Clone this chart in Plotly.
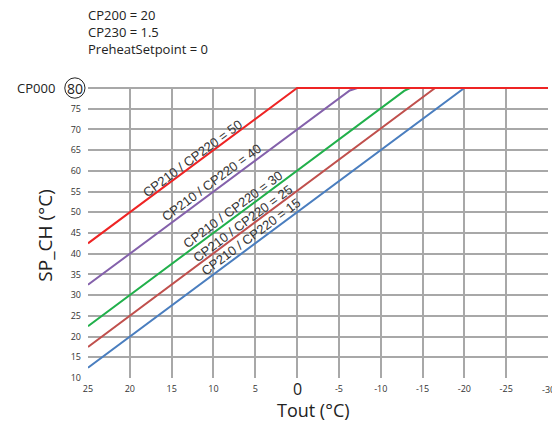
import plotly.graph_objects as go

# curve break points (Tout, SP_CH)
tout_50 = [25, 0, -30]
sp_50 = [42.5, 80, 80]
tout_40 = [25, -4.5, -5.5, -6.3, -7.2, -30]
sp_40 = [32.5, 76.8, 78.4, 79.4, 80, 80]
tout_30 = [25, -12, -12.8, -13.5, -30]
sp_30 = [22.5, 78, 79.3, 80, 80]
tout_25 = [25, -16.5, -30]
sp_25 = [17.5, 80, 80]
tout_15 = [25, -20, -30]
sp_15 = [12.5, 80, 80]

labels = ["CP210 / CP220 = 50", "CP210 / CP220 = 40", "CP210 / CP220 = 30",
          "CP210 / CP220 = 25", "CP210 / CP220 = 15"]
label_x = [12.5, 10.2, 7.7, 6.5, 5.5]
label_y = [62.9, 57.1, 50.7, 47.3, 44.2]

x_ticks = [25, 20, 15, 10, 5, 0, -5, -10, -15, -20, -25, -30]
y_ticks = [10, 15, 20, 25, 30, 35, 40, 45, 50, 55, 60, 65, 70, 75, 80]
cp000 = 80

y_rng = [10, 80.25]
y80 = (cp000 - y_rng[0]) / (y_rng[1] - y_rng[0])

fig = go.Figure()
series = [
    (tout_15, sp_15, '#4a7ebf'),
    (tout_25, sp_25, '#c0504d'),
    (tout_30, sp_30, '#21b04b'),
    (tout_40, sp_40, '#8461ab'),
    (tout_50, sp_50, '#ee2424'),
]
for xs, ys, c in series:
    fig.add_trace(go.Scatter(x=xs, y=ys, mode='lines', line=dict(color=c, width=2), hoverinfo='skip', showlegend=False))

for t, x, y in zip(labels, label_x, label_y):
    fig.add_annotation(x=x, y=y, text=t, showarrow=False, textangle=-36.6,
                       font=dict(family='Liberation Sans', size=13, color='#333333'))

tick_txt = ['' if v in (0, -30) else str(v) for v in x_ticks]
fig.update_xaxes(range=[25, -30], tickvals=x_ticks, ticktext=tick_txt, showgrid=True, gridcolor='#a8a8a8',
                 gridwidth=1.5, zeroline=False, showline=False, ticks='', ticklabelstandoff=4,
                 tickfont=dict(family='Open Sans', size=9, color='#333333'))
fig.update_yaxes(range=y_rng, tickvals=y_ticks, ticktext=[str(v) if v != 80 else '' for v in y_ticks],
                 showgrid=True, gridcolor='#a8a8a8', gridwidth=1.5, zeroline=False, showline=False, ticks='',
                 ticklabelstandoff=6, tickfont=dict(family='Open Sans', size=9, color='#333333'))

# circled 80 and CP000 label
fig.add_shape(type='circle', xref='paper', yref='paper', x0=-0.0505, x1=-0.0065,
              y0=y80 - 0.035, y1=y80 + 0.035, line=dict(color='#222222', width=1))
fig.add_annotation(x=-0.0285, y=y80, xref='paper', yref='paper', xanchor='center', yanchor='middle',
                   text=str(cp000), showarrow=False, font=dict(family='Open Sans', size=14, color='#222222'))
fig.add_annotation(x=-0.113, y=y80, xref='paper', yref='paper', xanchor='center', yanchor='middle',
                   text='CP000', showarrow=False, font=dict(family='Open Sans', size=13, color='#222222'))

# big 0 tick, cut -30 tick, axis titles, header text
fig.add_annotation(x=0, y=0, xref='x', yref='paper', yshift=-11, xanchor='center', yanchor='middle', text='0',
                   showarrow=False, font=dict(family='Open Sans', size=16, color='#222222'))
fig.add_annotation(x=-30, y=0, xref='x', yref='paper', yshift=-11, xanchor='center', yanchor='middle', text='-30',
                   showarrow=False, font=dict(family='Open Sans', size=9, color='#333333'))
fig.add_annotation(x=0.49, y=-0.11, xref='paper', yref='paper', xanchor='center', yanchor='middle', text='Tout (°C)',
                   showarrow=False, font=dict(family='Open Sans', size=18, color='#222222'))
fig.add_annotation(x=-0.093, y=0.49, xref='paper', yref='paper', xanchor='center', yanchor='middle',
                   text='SP_CH (°C)', textangle=-90, showarrow=False,
                   font=dict(family='Open Sans', size=19, color='#222222'))

header = 'CP200 = 20<br>CP230 = 1.5<br>PreheatSetpoint = 0'
fig.add_annotation(x=-0.004, y=1.285, xref='paper', yref='paper', xanchor='left', yanchor='top', align='left',
                   text=header, showarrow=False,
                   font=dict(family='Open Sans', size=13, color='#222222'))

fig.update_layout(width=552, height=423, margin=dict(l=88, r=4, t=87, b=45),
                  plot_bgcolor='white', paper_bgcolor='white')
fig.write_html("out.html", config={'displayModeBar': False}, post_script="document.body.style.margin='0';")
